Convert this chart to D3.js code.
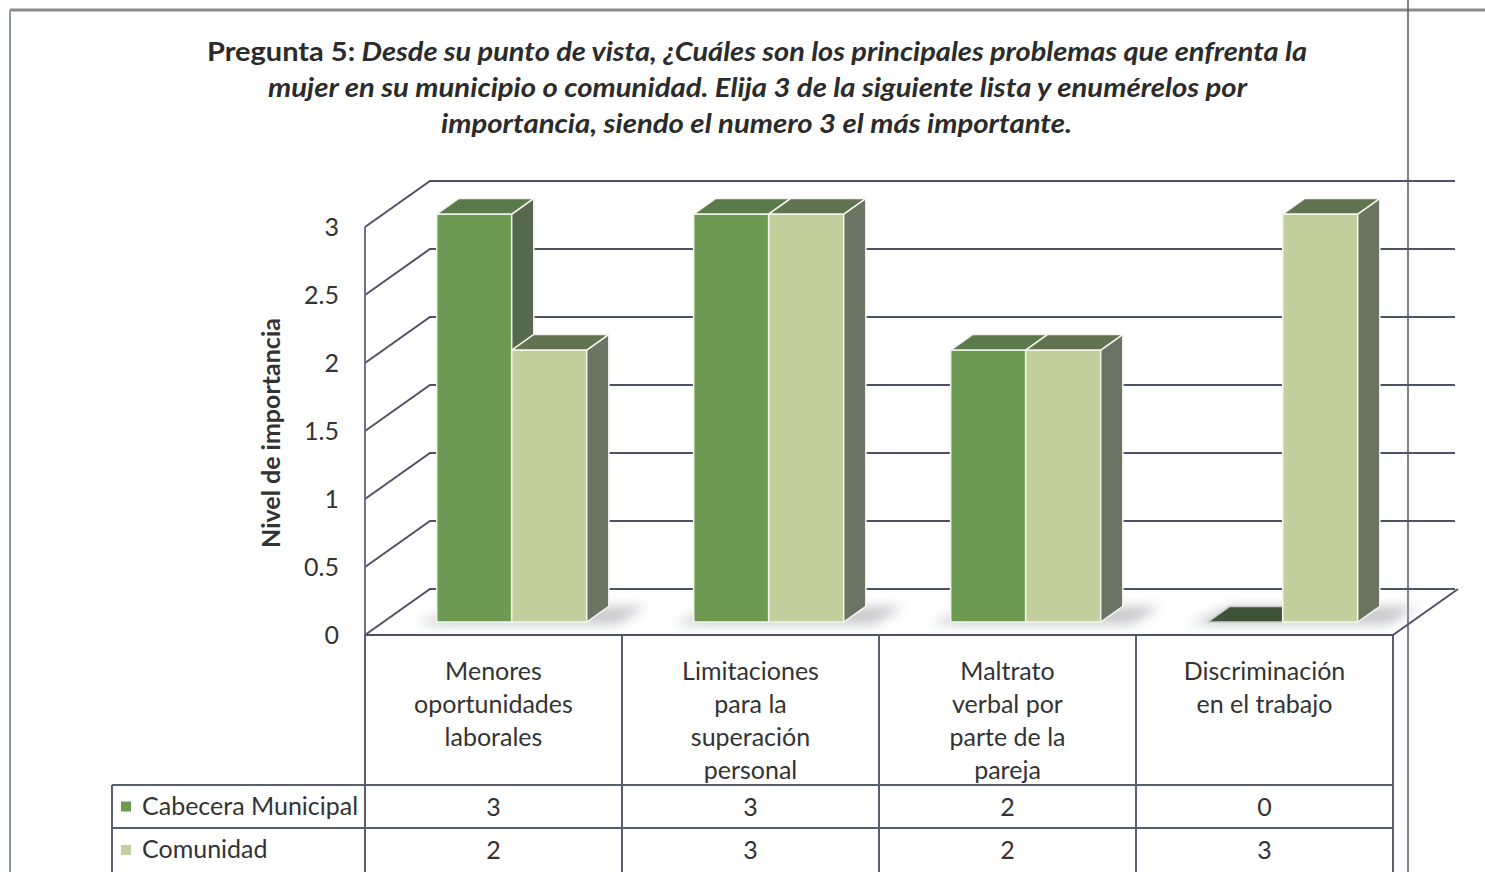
<!DOCTYPE html>
<html>
<head>
<meta charset="utf-8">
<script src="https://cdn.jsdelivr.net/npm/d3@7"></script>
<style>
    body { margin: 0; background: #fff; }
    svg { display: block; font-family: Lato, "Open Sans", sans-serif; }
</style>
</head>
<body>
<svg id="chart" width="1485" height="872"></svg>
<script>
const categories = [
    ['Menores', 'oportunidades', 'laborales'],
    ['Limitaciones', 'para la', 'superación', 'personal'],
    ['Maltrato', 'verbal por', 'parte de la', 'pareja'],
    ['Discriminación', 'en el trabajo']
];
const seriesNames = ['Cabecera Municipal', 'Comunidad'];
const cabecera = [3, 3, 2, 0];
const comunidad = [2, 3, 2, 3];
const yTicks = [0, 0.5, 1, 1.5, 2, 2.5, 3];
const titleLines = [
    ['Pregunta 5:', ' Desde su punto de vista, ¿Cuáles son los principales problemas que enfrenta la'],
    ['', 'mujer en su municipio o comunidad. Elija 3 de la siguiente lista y enumérelos por'],
    ['', 'importancia, siendo el numero 3 el más importante.']
];

const colors = {
    'Cabecera Municipal': {front: '#6c9a52', top: '#5a7a4c', side: '#56684d', zero: '#3e5339'},
    'Comunidad': {front: '#c3d09d', top: '#607452', side: '#6a7462', zero: '#3e5339'}
};

const svg = d3.select('#chart');

// page frame
svg.append('line').attr('x1', 10).attr('x2', 1485).attr('y1', 10).attr('y2', 10)
    .attr('stroke', '#8a8a8a').attr('stroke-width', 3);
svg.append('line').attr('x1', 10).attr('x2', 10).attr('y1', 10).attr('y2', 872)
    .attr('stroke', '#8c98a8').attr('stroke-width', 2);
svg.append('line').attr('x1', 1408).attr('x2', 1408).attr('y1', 0).attr('y2', 872)
    .attr('stroke', '#555a66').attr('stroke-width', 1.5);

// title
const titleWidths = [[207, 1307], [268, 1247], [441, 1072]];
titleLines.forEach((parts, i) => {
    const t = svg.append('text')
        .attr('x', titleWidths[i][0])
        .attr('y', 61 + i * 36)
        .attr('font-size', 26)
        .attr('font-weight', 'bold')
        .attr('fill', '#2b2b2b')
        .attr('textLength', titleWidths[i][1] - titleWidths[i][0])
        .attr('lengthAdjust', 'spacingAndGlyphs');
    if (parts[0]) t.append('tspan').text(parts[0]);
    t.append('tspan').attr('font-style', 'italic').text(parts[1]);
});

// 3D geometry
const left = 365, right = 1393, floorY = 635;
const depthX = 65, depthY = -46;
const barFront = 0.28, barDepth = 0.34;

const x = d3.scaleBand().domain(d3.range(categories.length)).range([left, right]);
const xs = d3.scaleBand().domain(seriesNames).range([0, x.bandwidth()]).paddingOuter(0.713).paddingInner(0);
const y = d3.scaleLinear().domain([0, 3]).range([floorY, floorY - 408]);

const proj = (px, py, d) => [px + d * depthX, py + d * depthY];
const poly = pts => pts.map(p => p.join(',')).join(' ');

const grid = svg.append('g').attr('fill', 'none').attr('stroke', '#4d5267').attr('stroke-width', 2);
yTicks.forEach(t => {
    const a = [left, y(t)];
    const b = proj(left, y(t), 1);
    grid.append('polyline').attr('points', poly([a, b, [1455, b[1]]]));
});
// front vertical of side wall
grid.append('line').attr('x1', left).attr('x2', left).attr('y1', y(3)).attr('y2', floorY + 150)
    .attr('stroke', '#6a7488');
// floor right edge and front edge
grid.append('polyline').attr('points', poly([[left, floorY], [right, floorY], proj(right, floorY, 1)]));

// shadows
const defs = svg.append('defs');
defs.append('filter').attr('id', 'blur').attr('x', '-50%').attr('y', '-50%').attr('width', '200%').attr('height', '200%')
    .append('feGaussianBlur').attr('stdDeviation', 6);

const barsData = [];
categories.forEach((c, i) => {
    seriesNames.forEach((s, k) => {
        const v = k === 0 ? cabecera[i] : comunidad[i];
        barsData.push({cat: i, series: s, value: v});
    });
});

const shadowG = svg.append('g');
categories.forEach((c, i) => {
    const x0 = x(i) + xs(seriesNames[0]) - 18;
    const x1 = x(i) + xs(seriesNames[1]) + xs.bandwidth() + 34;
    const f0 = proj(x0, floorY, barFront - 0.04);
    const f1 = proj(x1, floorY, barFront - 0.04);
    const b1 = proj(x1 + 4, floorY, barFront + barDepth);
    const b0 = proj(x0 + 20, floorY, barFront + barDepth);
    shadowG.append('polygon')
        .attr('points', poly([f0, f1, b1, b0]))
        .attr('fill', '#a4a4aa')
        .attr('opacity', 0.6)
        .attr('filter', 'url(#blur)');
});

// bars
const barG = svg.append('g').attr('stroke', '#f4f6ee').attr('stroke-width', 1.5).attr('stroke-linejoin', 'round');
barsData.forEach(d => {
    const bx0 = x(d.cat) + xs(d.series);
    const bx1 = bx0 + xs.bandwidth();
    const yTop = y(d.value);
    const c = colors[d.series];
    const fbl = proj(bx0, floorY, barFront), fbr = proj(bx1, floorY, barFront);
    const ftl = proj(bx0, yTop, barFront), ftr = proj(bx1, yTop, barFront);
    const btl = proj(bx0, yTop, barFront + barDepth), btr = proj(bx1, yTop, barFront + barDepth);
    const bbr = proj(bx1, floorY, barFront + barDepth);
    if (d.value === 0) {
        barG.append('polygon').attr('points', poly([ftl, ftr, btr, btl]))
            .attr('fill', c.zero).attr('stroke', '#c8ccc8');
        return;
    }
    barG.append('polygon').attr('points', poly([fbl, fbr, ftr, ftl])).attr('fill', c.front);
    barG.append('polygon').attr('points', poly([fbr, bbr, btr, ftr])).attr('fill', c.side);
    barG.append('polygon').attr('points', poly([ftl, ftr, btr, btl])).attr('fill', c.top);
});

// y axis labels
const axis = svg.append('g')
    .attr('transform', `translate(${left - 26},0)`)
    .call(d3.axisLeft(y).tickValues(yTicks).tickSize(0).tickPadding(0).tickFormat(d3.format('')));
axis.select('.domain').remove();
axis.selectAll('text').attr('font-size', 25).attr('fill', '#333').attr('font-family', 'Lato, sans-serif');

svg.append('text')
    .attr('transform', 'translate(280,433) rotate(-90)')
    .attr('text-anchor', 'middle')
    .attr('font-size', 25)
    .attr('font-weight', 'bold')
    .attr('fill', '#333')
    .text('Nivel de importancia');

// data table
const tableG = svg.append('g').attr('stroke', '#5a5f70').attr('stroke-width', 2);
const rowY = [785, 828, 872];
d3.range(categories.length + 1).forEach(i => {
    const cx = left + i * x.bandwidth();
    tableG.append('line').attr('x1', cx).attr('x2', cx).attr('y1', floorY).attr('y2', 872);
});
tableG.append('line').attr('x1', 112).attr('x2', 112).attr('y1', rowY[0]).attr('y2', 872);
tableG.append('line').attr('x1', 112).attr('x2', right).attr('y1', rowY[0]).attr('y2', rowY[0]);
tableG.append('line').attr('x1', 112).attr('x2', right).attr('y1', rowY[1]).attr('y2', rowY[1]);

const labelG = svg.append('g').attr('font-size', 25).attr('fill', '#333').attr('text-anchor', 'middle');
categories.forEach((lines, i) => {
    const cx = x(i) + x.bandwidth() / 2;
    lines.forEach((ln, j) => {
        labelG.append('text').attr('x', cx).attr('y', 680 + j * 33).text(ln);
    });
});

[cabecera, comunidad].forEach((vals, r) => {
    const s = seriesNames[r];
    const cy = (rowY[r] + rowY[r + 1]) / 2;
    svg.append('rect').attr('x', 121).attr('y', cy - 5).attr('width', 10).attr('height', 10)
        .attr('fill', colors[s].front);
    svg.append('text').attr('x', 142).attr('y', cy + 8).attr('font-size', 25).attr('fill', '#333').text(s);
    vals.forEach((v, i) => {
        labelG.append('text').attr('x', x(i) + x.bandwidth() / 2).attr('y', cy + 9).text(v);
    });
});
</script>
</body>
</html>
